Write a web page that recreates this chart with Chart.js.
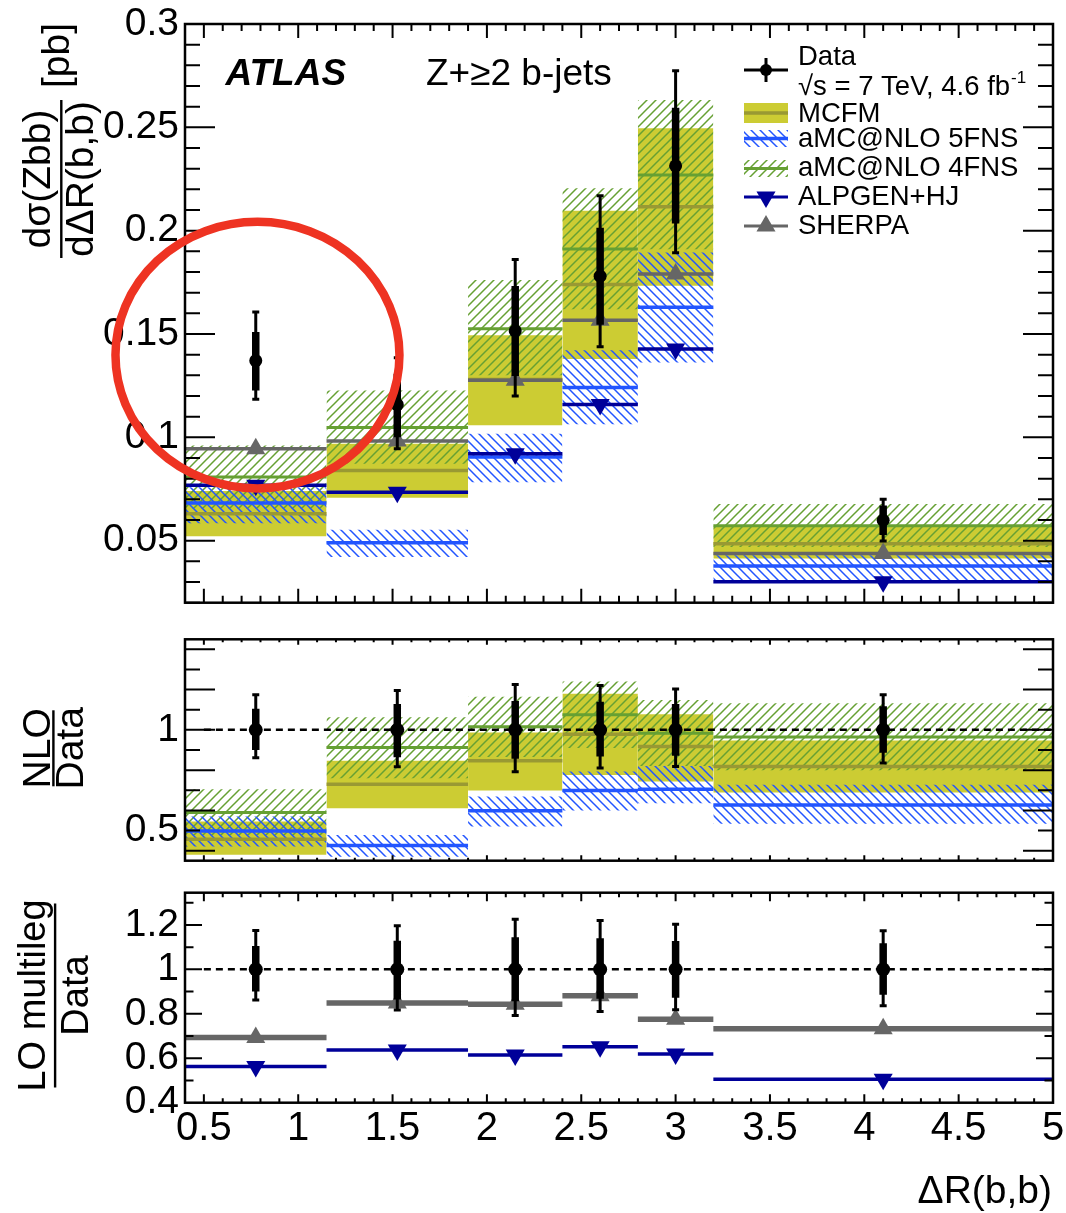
<!DOCTYPE html>
<html>
<head>
<meta charset="utf-8">
<script src="https://cdn.jsdelivr.net/npm/chart.js@4.4.1/dist/chart.umd.min.js"></script>
<style>
  html, body { margin: 0; padding: 0; background: #fff; }
  #wrap { position: relative; width: 1066px; height: 1213px; }
  canvas { position: absolute; left: 0; }
</style>
</head>
<body>
<div id="wrap">
  <canvas id="main" width="1066" height="615" style="top:0"></canvas>
  <canvas id="nlo" width="1066" height="258" style="top:615px"></canvas>
  <canvas id="lo" width="1066" height="340" style="top:873px"></canvas>
</div>
<script>
// bins in dR(b,b)
const binEdges   = [0.4, 1.15, 1.9, 2.4, 2.8, 3.2, 5.0];
const binCentres = [0.775, 1.525, 2.15, 2.6, 3.0, 4.1];
const xTickValues = [0.5, 1, 1.5, 2, 2.5, 3, 3.5, 4, 4.5, 5];
const yTicksMain  = [0.05, 0.1, 0.15, 0.2, 0.25, 0.3];
const yTicksNlo   = [0.5, 1];
const yTicksLo    = [0.4, 0.6, 0.8, 1, 1.2];

// upper panel: dsigma/dDR [pb]
const dataXsec   = [0.1371, 0.1158, 0.1515, 0.178, 0.2314, 0.0599];
const dataStatLo = [0.1227, 0.1001, 0.1297, 0.1545, 0.2035, 0.0528];
const dataStatHi = [0.151, 0.1308, 0.1732, 0.2014, 0.2595, 0.067];
const dataTotLo  = [0.1184, 0.0945, 0.120, 0.1438, 0.1893, 0.0499];
const dataTotHi  = [0.1607, 0.1385, 0.1861, 0.2169, 0.2774, 0.0701];
const mcfm   = [0.063, 0.084, 0.128, 0.174, 0.2116, 0.0485];
const mcfmLo = [0.0521, 0.0708, 0.1058, 0.1379, 0.1733, 0.0414];
const mcfmHi = [0.074, 0.0969, 0.1494, 0.2097, 0.2495, 0.0567];
const amc5   = [0.0682, 0.049, 0.0905, 0.1241, 0.1629, 0.0377];
const amc5Lo = [0.0585, 0.0421, 0.0783, 0.1064, 0.1362, 0.0309];
const amc5Hi = [0.0759, 0.0553, 0.1017, 0.1422, 0.1895, 0.043];
const amc4   = [0.0808, 0.1048, 0.1526, 0.1911, 0.2269, 0.0572];
const amc4Lo = [0.0655, 0.0872, 0.130, 0.162, 0.191, 0.047];
const amc4Hi = [0.0961, 0.1227, 0.1761, 0.2205, 0.2632, 0.0677];
const alpgen = [0.0768, 0.0735, 0.0921, 0.1159, 0.1428, 0.0301];
const sherpa = [0.0945, 0.0982, 0.1276, 0.1567, 0.179, 0.0438];

// ratio panels (data uncertainty relative to 1)
const ones        = [1, 1, 1, 1, 1, 1];
const ratioStatLo = [0.90, 0.864, 0.856, 0.868, 0.872, 0.886];
const ratioStatHi = [1.105, 1.129, 1.144, 1.14, 1.128, 1.117];
const ratioTotLo  = [0.862, 0.817, 0.792, 0.81, 0.818, 0.836];
const ratioTotHi  = [1.175, 1.196, 1.226, 1.22, 1.203, 1.174];
const mcfmR   = [0.457, 0.73, 0.846, 0.978, 0.917, 0.818];
const mcfmRLo = [0.379, 0.611, 0.699, 0.776, 0.743, 0.689];
const mcfmRHi = [0.545, 0.846, 0.987, 1.179, 1.078, 0.947];
const amc4R   = [0.589, 0.912, 1.015, 1.075, 0.983, 0.964];
const amc4RLo = [0.475, 0.76, 0.865, 0.91, 0.82, 0.80];
const amc4RHi = [0.705, 1.063, 1.165, 1.24, 1.149, 1.132];
const amc5R   = [0.498, 0.425, 0.598, 0.699, 0.705, 0.627];
const amc5RLo = [0.42, 0.37, 0.52, 0.599, 0.636, 0.533];
const amc5RHi = [0.57, 0.478, 0.669, 0.793, 0.821, 0.727];
const sherpaR = [0.693, 0.849, 0.843, 0.881, 0.775, 0.733];
const alpgenR = [0.563, 0.637, 0.615, 0.652, 0.619, 0.506];

// red ring drawn over the first bin (data units)
const ringCentre = [0.784, 0.1398];
const ringRadius = [0.7525, 0.0645];

const FONT = '"Liberation Sans", Arial, Helvetica, sans-serif';
const YELLOW = '#cccc33', OLIVE = '#999933', GREEN = '#66a033', BLUE = '#2255ff', NAVY = '#000099', GREY = '#666666';

function hatch(color, forward) {
  const s = 9, c = document.createElement('canvas');
  c.width = c.height = s;
  const g = c.getContext('2d');
  g.strokeStyle = color; g.lineWidth = 1.5;
  g.beginPath();
  if (forward) {
    g.moveTo(-1, s + 1); g.lineTo(s + 1, -1);
    g.moveTo(-1, 1); g.lineTo(1, -1);
    g.moveTo(s - 1, s + 1); g.lineTo(s + 1, s - 1);
  } else {
    g.moveTo(-1, -1); g.lineTo(s + 1, s + 1);
    g.moveTo(-1, s - 1); g.lineTo(1, s + 1);
    g.moveTo(s - 1, -1); g.lineTo(s + 1, 1);
  }
  g.stroke();
  return g.createPattern(c, 'repeat');
}
const HATCH4 = hatch(GREEN, true);
const HATCH5 = hatch(BLUE, false);

const fmt = v => String(Math.round(v * 100) / 100);

// helpers turning per-bin values into points
function steps(vals) {
  const pts = [];
  vals.forEach((v, i) => {
    if (i > 0) pts.push({ x: binEdges[i], y: null });
    pts.push({ x: binEdges[i], y: v }, { x: binEdges[i + 1], y: v });
  });
  return pts;
}
function centres(vals) {
  return vals.map((v, i) => ({ x: binCentres[i], y: v }));
}
function bars(lo, hi) {
  const pts = [];
  lo.forEach((v, i) => {
    if (i > 0) pts.push({ x: binCentres[i], y: null });
    pts.push({ x: binCentres[i], y: lo[i] }, { x: binCentres[i], y: hi[i] });
  });
  return pts;
}

const NONE = 'rgba(0,0,0,0)';
const TRI = 11;
function band(lo, hi, fill, order) {
  return [
    { data: steps(hi), fill: '+1', backgroundColor: fill, borderColor: NONE, borderWidth: 0, pointRadius: 0, order },
    { data: steps(lo), fill: false, borderColor: NONE, borderWidth: 0, pointRadius: 0, order }
  ];
}
function level(vals, color, width, order) {
  return { data: steps(vals), borderColor: color, borderWidth: width, pointRadius: 0, fill: false, order };
}
function markers(vals, color, rotation, order) {
  return { data: centres(vals), showLine: false, pointStyle: 'triangle', rotation, pointRadius: TRI,
           pointBackgroundColor: color, pointBorderColor: color, pointBorderWidth: 0, order };
}
function dataSets(val, statLo, statHi, totLo, totHi, r) {
  return [
    { data: centres(val), showLine: false, pointStyle: 'circle', pointRadius: r,
      pointBackgroundColor: '#000', pointBorderColor: '#000', pointBorderWidth: 0, order: 0 },
    { data: bars(statLo, statHi), borderColor: '#000', borderWidth: 7.5, pointRadius: 0, order: 1 },
    { data: bars(totLo, totHi), borderColor: '#000', borderWidth: 3, pointStyle: 'line',
      pointRadius: 3.5, pointBorderColor: '#000', pointBorderWidth: 3, order: 1 }
  ];
}
const unityLine = { data: [{ x: 0.5, y: 1 }, { x: 5, y: 1 }], borderColor: '#000', borderWidth: 2.5,
                    borderDash: [7, 5], pointRadius: 0, order: 2 };

// inward ROOT-style ticks and frame
function frame(o) {
  return {
    id: 'frame',
    afterDatasetsDraw(chart) {
      const { ctx, chartArea: a, scales: { x, y } } = chart;
      ctx.save();
      ctx.strokeStyle = '#000';
      ctx.lineWidth = 2;
      ctx.beginPath();
      for (let k = 4; k <= 50; k++) {
        const px = x.getPixelForValue(k / 10);
        const L = k % 5 === 0 ? o.xMajor : o.xMinor;
        ctx.moveTo(px, a.bottom); ctx.lineTo(px, a.bottom - L);
        ctx.moveTo(px, a.top); ctx.lineTo(px, a.top + L);
      }
      for (let k = o.yFrom; k <= o.yTo; k++) {
        const py = y.getPixelForValue(k / o.yDiv);
        const L = k % o.yLongEvery === 0 ? o.yMajor : o.yMinor;
        ctx.moveTo(a.left, py); ctx.lineTo(a.left + L, py);
        ctx.moveTo(a.right, py); ctx.lineTo(a.right - L, py);
      }
      ctx.stroke();
      ctx.lineWidth = 2.5;
      ctx.strokeRect(a.left, a.top, a.right - a.left, a.bottom - a.top);
      ctx.restore();
    }
  };
}

// rotated fraction used as y title
function vfrac(ctx, x, y, num, den, size, numY, denY, barLen) {
  ctx.save();
  ctx.translate(x, y);
  ctx.rotate(-Math.PI / 2);
  ctx.font = size + 'px ' + FONT;
  ctx.fillStyle = '#000';
  ctx.textAlign = 'center';
  ctx.textBaseline = 'alphabetic';
  ctx.fillText(num, 0, numY);
  ctx.fillText(den, 0, denY);
  ctx.fillRect(-barLen / 2, -1.2, barLen, 2.4);
  ctx.restore();
}

function yAxis(min, max, tickVals) {
  return {
    type: 'linear', min, max,
    grid: { display: false, drawTicks: false }, border: { display: false },
    afterBuildTicks: s => { s.ticks = tickVals.map(v => ({ value: v })); },
    afterFit: s => { s.width = 185; s.paddingTop = 0; s.paddingBottom = 0; },
    ticks: { autoSkip: false, padding: 6, color: '#000', font: { family: FONT, size: 39, lineHeight: 1 }, callback: fmt }
  };
}
function xAxis(show, h) {
  return {
    type: 'linear', min: 0.4, max: 5.0, display: show,
    grid: { display: false, drawTicks: false }, border: { display: false },
    afterBuildTicks: s => { s.ticks = xTickValues.map(v => ({ value: v })); },
    afterFit: s => { if (show) s.height = h; s.paddingLeft = 0; s.paddingRight = 0; },
    ticks: { autoSkip: false, maxRotation: 0, minRotation: 0, padding: 6, color: '#000',
             font: { family: FONT, size: 40, lineHeight: 1 }, callback: fmt }
  };
}

function panel(id, padTop, padBottom, xShow, xH, yMin, yMax, yTicks, datasets, plugins) {
  return new Chart(document.getElementById(id), {
    type: 'line',
    data: { datasets },
    options: {
      responsive: false, animation: false, events: [],
      layout: { padding: { left: 0, right: 13, top: padTop, bottom: padBottom } },
      plugins: { legend: { display: false }, tooltip: { enabled: false } },
      scales: { x: xAxis(xShow, xH), y: yAxis(yMin, yMax, yTicks) }
    },
    plugins
  });
}

// ---------- upper panel ----------
const mainDeco = {
  id: 'mainDeco',
  afterDraw(chart) {
    const { ctx, scales: { x, y } } = chart;
    const P = Chart.helpers.drawPoint;
    ctx.save();
    vfrac(ctx, 61.3, 179, 'd\u03c3(Zbb)', 'd\u0394R(b,b)', 39, -11.6, 31.8, 158);
    ctx.save();
    ctx.translate(61.3, 179); ctx.rotate(-Math.PI / 2);
    ctx.font = '39px ' + FONT; ctx.textAlign = 'center'; ctx.fillStyle = '#000';
    ctx.fillText('[pb]', 123.5, 7.8);
    ctx.restore();

    ctx.fillStyle = '#000';
    ctx.textAlign = 'left'; ctx.textBaseline = 'alphabetic';
    ctx.font = 'italic bold 37px ' + FONT;
    ctx.fillText('ATLAS', 225.5, 85);
    ctx.font = '37px ' + FONT;
    ctx.fillText('Z+\u22652 b-jets', 426, 85);

    // legend
    const X0 = 744, X1 = 788, XM = 766, TX = 798;
    ctx.lineCap = 'butt';
    ctx.strokeStyle = '#000'; ctx.lineWidth = 3;
    ctx.beginPath(); ctx.moveTo(X0, 70); ctx.lineTo(X1, 70); ctx.moveTo(XM, 58); ctx.lineTo(XM, 82); ctx.stroke();
    ctx.fillStyle = '#000';
    P(ctx, { pointStyle: 'circle', radius: 6, borderWidth: 0, rotation: 0 }, XM, 70);

    ctx.fillStyle = YELLOW; ctx.fillRect(X0, 103, X1 - X0, 20);
    ctx.strokeStyle = OLIVE; ctx.lineWidth = 3.5;
    ctx.beginPath(); ctx.moveTo(X0, 113); ctx.lineTo(X1, 113); ctx.stroke();

    ctx.fillStyle = HATCH5; ctx.fillRect(X0, 130, X1 - X0, 17);
    ctx.strokeStyle = BLUE; ctx.lineWidth = 3.5;
    ctx.beginPath(); ctx.moveTo(X0, 138.5); ctx.lineTo(X1, 138.5); ctx.stroke();

    ctx.fillStyle = HATCH4; ctx.fillRect(X0, 160, X1 - X0, 17);
    ctx.strokeStyle = GREEN; ctx.lineWidth = 3;
    ctx.beginPath(); ctx.moveTo(X0, 168.5); ctx.lineTo(X1, 168.5); ctx.stroke();

    ctx.strokeStyle = NAVY; ctx.lineWidth = 3;
    ctx.beginPath(); ctx.moveTo(X0, 197); ctx.lineTo(X1, 197); ctx.stroke();
    ctx.fillStyle = NAVY;
    P(ctx, { pointStyle: 'triangle', radius: TRI, borderWidth: 0, rotation: 180 }, XM, 197);

    ctx.strokeStyle = GREY; ctx.lineWidth = 3;
    ctx.beginPath(); ctx.moveTo(X0, 226); ctx.lineTo(X1, 226); ctx.stroke();
    ctx.fillStyle = GREY;
    P(ctx, { pointStyle: 'triangle', radius: TRI, borderWidth: 0, rotation: 0 }, XM, 226);

    ctx.fillStyle = '#000';
    ctx.font = '27.5px ' + FONT;
    ctx.fillText('Data', TX, 65);
    const s = '\u221as = 7 TeV, 4.6 fb';
    ctx.fillText(s, TX, 95);
    const w = ctx.measureText(s).width;
    ctx.fillText('MCFM', TX, 121.7);
    ctx.fillText('aMC@NLO 5FNS', TX, 147.3);
    ctx.fillText('aMC@NLO 4FNS', TX, 175.7);
    ctx.fillText('ALPGEN+HJ', TX, 205);
    ctx.fillText('SHERPA', TX, 234.3);
    ctx.font = '17px ' + FONT;
    ctx.fillText('-1', TX + w + 1, 83);

    // red ring
    const cx = x.getPixelForValue(ringCentre[0]);
    const cy = y.getPixelForValue(ringCentre[1]);
    const rx = x.getPixelForValue(ringCentre[0] + ringRadius[0]) - cx;
    const ry = cy - y.getPixelForValue(ringCentre[1] + ringRadius[1]);
    ctx.beginPath();
    ctx.ellipse(cx, cy, rx, ry, 0, 0, 2 * Math.PI);
    ctx.lineWidth = 8.5; ctx.strokeStyle = '#ee3322';
    ctx.stroke();
    ctx.restore();
  }
};

panel('main', 24, 12.3, false, 0, 0.02, 0.3, yTicksMain, [
  ...band(mcfmLo, mcfmHi, YELLOW, 9),
  ...band(amc4Lo, amc4Hi, HATCH4, 8),
  ...band(amc5Lo, amc5Hi, HATCH5, 7),
  level(mcfm, OLIVE, 3.5, 6),
  level(amc4, GREEN, 3, 5),
  level(amc5, BLUE, 3.5, 5),
  level(sherpa, GREY, 3.5, 4),
  level(alpgen, NAVY, 3.5, 4),
  markers(sherpa, GREY, 0, 3),
  markers(alpgen, NAVY, 180, 3),
  ...dataSets(dataXsec, dataStatLo, dataStatHi, dataTotLo, dataTotHi, 6.5)
], [frame({ xMajor: 14, xMinor: 7, yFrom: 2, yTo: 30, yDiv: 100, yLongEvery: 5, yMajor: 30, yMinor: 15 }), mainDeco]);

// ---------- NLO / Data ----------
const nloDeco = {
  id: 'nloDeco',
  afterDraw(chart) {
    vfrac(chart.ctx, 53.4, 133.3, 'NLO', 'Data', 39, -3.4, 29.2, 76);
  }
};
panel('nlo', 24.3, 12.3, false, 0, 0.35, 1.45, yTicksNlo, [
  ...band(mcfmRLo, mcfmRHi, YELLOW, 9),
  ...band(amc4RLo, amc4RHi, HATCH4, 8),
  ...band(amc5RLo, amc5RHi, HATCH5, 7),
  level(mcfmR, OLIVE, 3.5, 6),
  level(amc4R, GREEN, 3, 5),
  level(amc5R, BLUE, 3.5, 5),
  unityLine,
  ...dataSets(ones, ratioStatLo, ratioStatHi, ratioTotLo, ratioTotHi, 7)
], [frame({ xMajor: 5.5, xMinor: 3, yFrom: 4, yTo: 14, yDiv: 10, yLongEvery: 2, yMajor: 30, yMinor: 15 }), nloDeco]);

// ---------- LO multileg / Data ----------
const loDeco = {
  id: 'loDeco',
  afterDraw(chart) {
    const ctx = chart.ctx;
    vfrac(ctx, 55.1, 122.5, 'LO multileg', 'Data', 38, -10.2, 33, 184);
    ctx.save();
    ctx.fillStyle = '#000';
    ctx.font = '39px ' + FONT;
    ctx.textAlign = 'right'; ctx.textBaseline = 'alphabetic';
    ctx.fillText('\u0394R(b,b)', 1052, 330);
    ctx.restore();
  }
};
panel('lo', 19.7, 0, true, 110.3, 0.4, 1.345, yTicksLo, [
  level(sherpaR, GREY, 5.5, 5),
  level(alpgenR, NAVY, 3.5, 5),
  markers(sherpaR, GREY, 0, 3),
  markers(alpgenR, NAVY, 180, 3),
  unityLine,
  ...dataSets(ones, ratioStatLo, ratioStatHi, ratioTotLo, ratioTotHi, 7)
], [frame({ xMajor: 8.5, xMinor: 4.5, yFrom: 5, yTo: 13, yDiv: 10, yLongEvery: 2, yMajor: 17, yMinor: 8.5 }), loDeco]);
</script>
</body>
</html>
